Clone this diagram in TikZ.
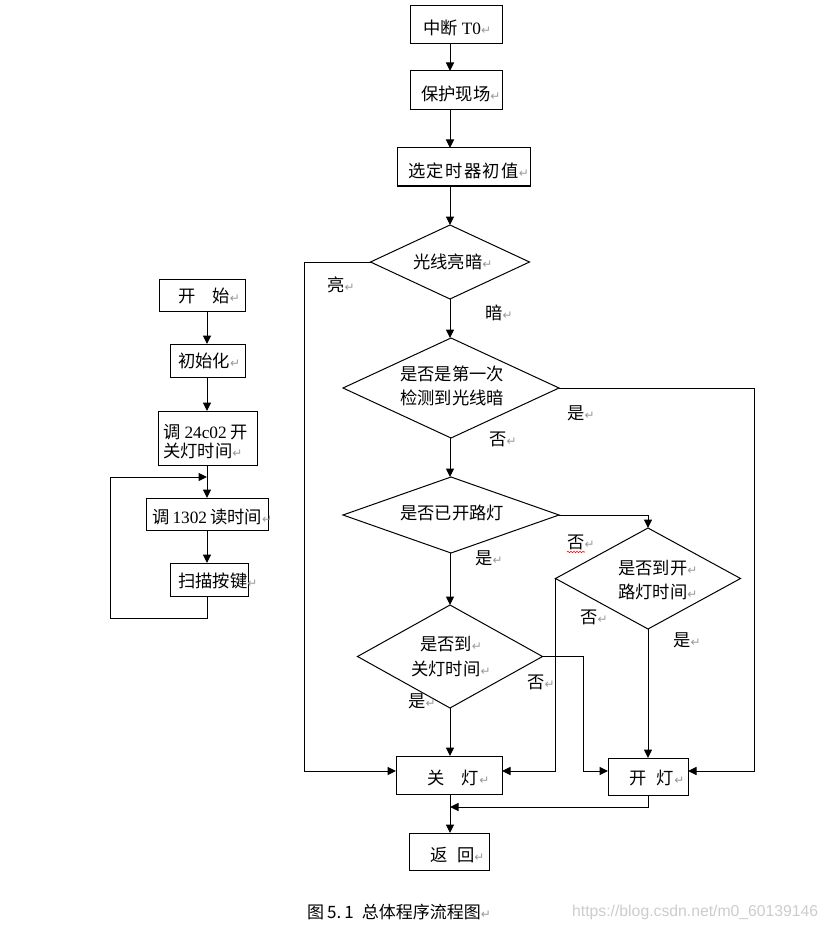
\documentclass[tikz,border=0pt]{standalone}
\usepackage{fontspec}
\setmainfont{Liberation Serif}
\newfontfamily\cjk{Noto Sans CJK SC}
\newfontfamily\lat{Liberation Serif}
\newfontfamily\symf{DejaVu Sans}
\newfontfamily\wmf{Liberation Sans}
\usetikzlibrary{arrows.meta,shapes.geometric,decorations.pathmorphing}
\newcommand\rmk{{\symf\fontsize{12}{12}\selectfont\color{black!40}↵}}
\tikzset{
  box/.style={draw, line width=1pt, inner sep=0pt, outer sep=0pt},
  dia/.style={draw, diamond, line width=1pt, inner sep=0pt, outer sep=0pt},
  txt/.style={inner sep=0pt, anchor=west, font=\cjk\fontsize{17.3}{20}\selectfont},
  arr/.style={line width=1pt, -{Triangle[length=8.5pt,width=8pt]}},
  ln/.style={line width=1pt},
}
\begin{document}
\begin{tikzpicture}[x=1pt,y=-1pt]
\useasboundingbox (0,0) rectangle (828,928);
% ---------- left column ----------
\node[box, minimum width=86pt, minimum height=32pt] (s1) at (202,295) {};
\node[box, minimum width=75pt, minimum height=33pt] (s2) at (207.5,360.5) {};
\node[box, minimum width=99pt, minimum height=54pt] (s3) at (207.5,438) {};
\node[box, minimum width=122pt, minimum height=32pt] (s4) at (207,514) {};
\node[box, minimum width=78pt, minimum height=33pt] (s5) at (209,579.5) {};
\node[txt] (ts1) at (178,296) {开\hspace{17pt}始\rmk};
\node[txt] (ts2) at (178,361) {初始化\rmk};
\node[txt, align=left, font=\cjk\fontsize{17.3}{18.5}\selectfont] (ts3) at (163,441.5) {调\hspace{4pt}{\lat 24c02}\hspace{4pt}开\\关灯时间\rmk};
\node[txt] (ts4) at (152,517) {调\hspace{3pt}{\lat 1302}\hspace{3pt}读时间\rmk};
\node[txt] (ts5) at (178,581) {扫描按键\rmk};
\coordinate (lc) at (207,0);
\coordinate (loopin) at (207,477);
\coordinate (lpb) at (110,618);
\draw[arr] (s1.south -| lc) -- (s2.north -| lc);
\draw[arr] (s2.south -| lc) -- (s3.north -| lc);
\draw[arr] (s3.south -| lc) -- (s4.north -| lc);
\draw[arr] (s4.south -| lc) -- (s5.north -| lc);
\draw[arr] (s5.south -| lc) |- (lpb) |- (loopin);
% ---------- right column ----------
\node[box, minimum width=92pt, minimum height=38pt] (r1) at (456,25) {};
\node[box, minimum width=92pt, minimum height=39pt] (r2) at (456,90.5) {};
\node[box, minimum width=133pt, minimum height=38pt] (r3) at (463.5,167) {};
\node[txt] (tr1) at (423,28) {中断\hspace{4pt}{\lat T0}\rmk};
\node[txt] (tr2) at (421,94) {保护现场\rmk};
\node[txt, font=\cjk\fontsize{17.3}{20}\selectfont\addfontfeature{LetterSpace=8}] (tr3) at (408,171) {选定时器初值\rmk};

\node[dia, minimum width=159pt, minimum height=74pt] (d1) at (450,262) {};
\node[dia, minimum width=216pt, minimum height=100pt] (d2) at (451,388) {};
\node[dia, minimum width=216pt, minimum height=76pt] (d3) at (451,515) {};
\node[dia, minimum width=185pt, minimum height=101pt] (d4) at (648,578.5) {};
\node[dia, minimum width=185pt, minimum height=103pt] (d5) at (450,656.5) {};
\node[txt] (td1) at (413,262) {光线亮暗\rmk};
\node[txt, align=left, font=\cjk\fontsize{17.3}{24}\selectfont] (td2) at (400,386) {是否是第一次\\检测到光线暗};
\node[txt] (td3) at (400,513) {是否已开路灯};
\node[txt, align=left, font=\cjk\fontsize{17.3}{24}\selectfont] (td4) at (618,580) {是否到开\rmk\\路灯时间\rmk};
\node[txt, anchor=center, align=center, font=\cjk\fontsize{17.3}{25}\selectfont] (td5) at (451,657) {是否到\rmk\\关灯时间\rmk};

\node[box, minimum width=106pt, minimum height=38pt] (b1) at (449,775) {};
\node[box, minimum width=80pt, minimum height=37pt] (b2) at (648,776.5) {};
\node[box, minimum width=80pt, minimum height=37pt] (b3) at (449,851.5) {};
\node[txt] (tb1) at (427,778) {关\hspace{17.5pt}灯\rmk};
\node[txt] (tb2) at (629,778) {开\hspace{10.5pt}灯\rmk};
\node[txt] (tb3) at (430,855) {返\hspace{9.5pt}回\rmk};

% branch labels
\node[txt] (l1) at (327,285) {亮\rmk};
\node[txt] (l2) at (485,313) {暗\rmk};
\node[txt] (l3) at (567,413) {是\rmk};
\node[txt] (l4) at (489,439) {否\rmk};
\node[txt] (l5) at (567,542) {否\rmk};
\node[txt] (l6) at (475,558) {是\rmk};
\node[txt] (l7) at (580,617) {否\rmk};
\node[txt] (l8) at (673,640) {是\rmk};
\node[txt] (l9) at (527,682) {否\rmk};
\node[txt] (l10) at (408,701) {是\rmk};
\draw[red, line width=0.6pt, decorate, decoration={snake, amplitude=0.7pt, segment length=3pt}] (567,552) -- (585,552);

% connectors
\coordinate (rc) at (450,0);
\coordinate (yl) at (0,771);
\coordinate (L) at (304,771);
\coordinate (R) at (754,771);
\coordinate (M) at (583,771);
\coordinate (J) at (450,807);
\draw[arr] (r1.south -| rc) -- (r2.north -| rc);
\draw[arr] (r2.south -| rc) -- (r3.north -| rc);
\draw[arr] (r3.south -| rc) -- (d1.north);
\draw[arr] (d1.south) -- (d2.north -| rc);
\draw[arr] (d2.south -| rc) -- (d3.north -| rc);
\draw[arr] (d3.south -| rc) -- (d5.north);
\draw[arr] (d5.south) -- (b1.north -| rc);
\draw[arr] (b1.south -| rc) -- (b3.north -| rc);
\draw[arr] (d1.west) -| (L) -- (b1.west |- yl);
\draw[arr] (d2.east) -| (R) -- (b2.east |- yl);
\draw[arr] (d3.east) -| (d4.north);
\draw[arr] (d4.west) |- (b1.east |- yl);
\draw[arr] (d4.south) -- (b2.north);
\draw[arr] (d5.east) -| (M) -- (b2.west |- yl);
\draw[arr] (b2.south) |- (J);

% caption and watermark
\node[txt, font=\cjk\fontsize{17}{20}\selectfont] (cap) at (307,912) {图\hspace{3pt}5.\hspace{3pt}1\hspace{8pt}总体程序流程图\rmk};
\node[inner sep=0pt, anchor=west, font=\wmf\fontsize{15.75}{16}\selectfont, text=black!20] (wm) at (572,912) {https://blog.csdn.net/m0\_60139146};
\end{tikzpicture}
\end{document}
